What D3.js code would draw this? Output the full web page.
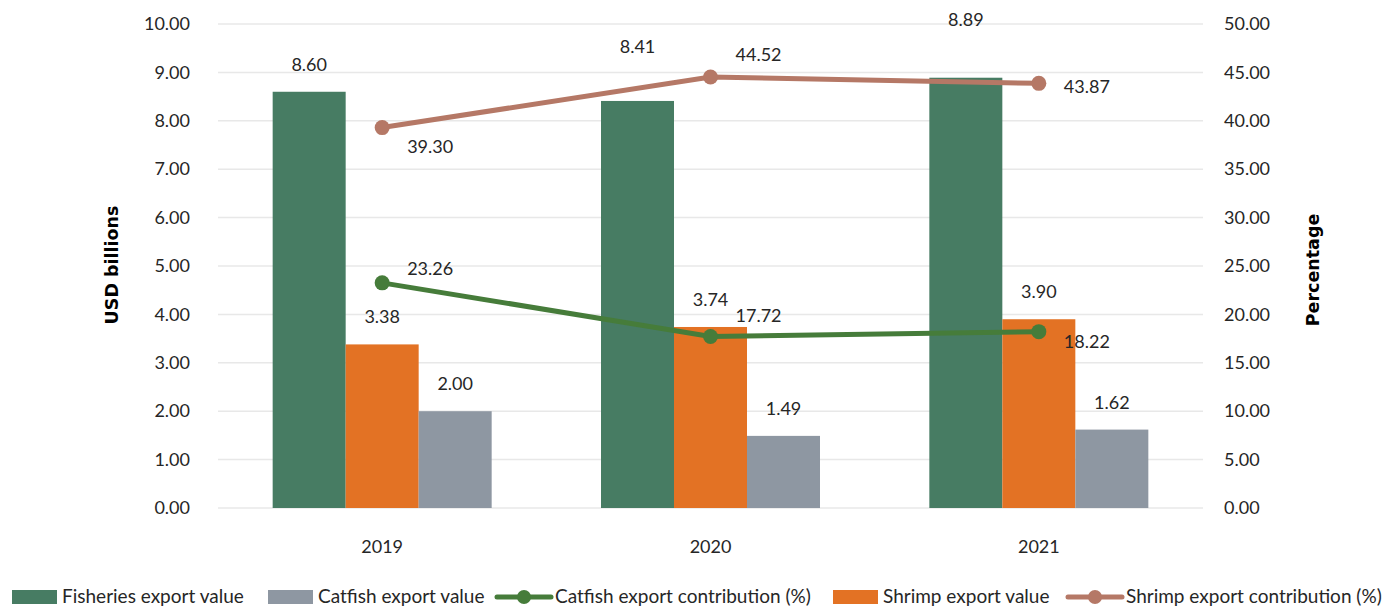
<!DOCTYPE html>
<html>
<head>
<meta charset="utf-8">
<script src="https://cdn.jsdelivr.net/npm/d3@7"></script>
<style>
  body { margin: 0; background: #fff; }
  svg text { font-family: Lato, "Open Sans", sans-serif; fill: #262626; }
</style>
</head>
<body>
<div id="chart"></div>
<script>
// data
const years = ["2019", "2020", "2021"];
const fisheriesValue = [8.60, 8.41, 8.89];
const shrimpValue = [3.38, 3.74, 3.90];
const catfishValue = [2.00, 1.49, 1.62];
const catfishShare = [23.26, 17.72, 18.22];
const shrimpShare = [39.30, 44.52, 43.87];
const leftTicks = [0, 1, 2, 3, 4, 5, 6, 7, 8, 9, 10];
const rightTicks = [0, 5, 10, 15, 20, 25, 30, 35, 40, 45, 50];

// extra lift for a few bar labels (they get pushed up in the original)
const fisheriesLabelLift = [0, 27, 31];

const colors = {
  fisheries: "#477c63",
  shrimp: "#e37224",
  catfish: "#8e97a2",
  catfishLine: "#467c3a",
  shrimpLine: "#b57866"
};

const width = 1391, height = 607;
const margin = { top: 24, right: 188, bottom: 99, left: 218 };

const svg = d3.select("#chart").append("svg")
  .attr("width", width)
  .attr("height", height);

const x = d3.scaleBand()
  .domain(years)
  .range([margin.left, width - margin.right])
  .padding(0);

const yLeft = d3.scaleLinear().domain([0, 10]).range([height - margin.bottom, margin.top]);
const yRight = d3.scaleLinear().domain([0, 50]).range([height - margin.bottom, margin.top]);

// gridlines
svg.append("g")
  .selectAll("line")
  .data(leftTicks)
  .enter().append("line")
  .attr("x1", margin.left)
  .attr("x2", width - margin.right)
  .attr("y1", d => yLeft(d))
  .attr("y2", d => yLeft(d))
  .style("stroke", "#e8e8e8")
  .style("stroke-width", 1.5);

// left axis
const leftAxis = svg.append("g")
  .attr("transform", `translate(${margin.left - 28},0)`)
  .call(d3.axisLeft(yLeft).tickValues(leftTicks).tickFormat(d3.format(".2f")).tickSize(0).tickPadding(0));
leftAxis.select(".domain").remove();
leftAxis.selectAll("text").style("font-size", "18px").attr("fill", "#262626");

// right axis
const rightAxis = svg.append("g")
  .attr("transform", `translate(${width - margin.right + 21},0)`)
  .call(d3.axisRight(yRight).tickValues(rightTicks).tickFormat(d3.format(".2f")).tickSize(0).tickPadding(0));
rightAxis.select(".domain").remove();
rightAxis.selectAll("text").style("font-size", "18px").attr("fill", "#262626");

// bottom axis
const bottomAxis = svg.append("g")
  .attr("transform", `translate(0,${height - margin.bottom})`)
  .call(d3.axisBottom(x).tickSize(0).tickPadding(32));
bottomAxis.select(".domain").remove();
bottomAxis.selectAll("text").style("font-size", "18px").attr("fill", "#262626");

// axis titles
const midY = (margin.top + height - margin.bottom) / 2;
svg.append("text")
  .attr("transform", `translate(118,${midY - 1}) rotate(-90)`)
  .attr("text-anchor", "middle")
  .style("font-family", "'DejaVu Sans', sans-serif")
  .style("font-weight", "bold")
  .style("font-size", "17.5px")
  .style("fill", "#000")
  .text("USD billions");

svg.append("text")
  .attr("transform", `translate(1319,${midY + 4}) rotate(-90)`)
  .attr("text-anchor", "middle")
  .style("font-family", "'DejaVu Sans', sans-serif")
  .style("font-weight", "bold")
  .style("font-size", "17.5px")
  .style("fill", "#000")
  .text("Percentage");

// bars
const barSeries = [
  { key: "fisheries", values: fisheriesValue },
  { key: "shrimp", values: shrimpValue },
  { key: "catfish", values: catfishValue }
];
const groupWidth = x.bandwidth() * 0.667;
const inner = d3.scaleBand()
  .domain(barSeries.map(s => s.key))
  .range([0, groupWidth]);

barSeries.forEach(s => {
  const g = svg.append("g");
  g.selectAll("rect")
    .data(s.values)
    .enter().append("rect")
    .attr("x", (d, i) => x(years[i]) + (x.bandwidth() - groupWidth) / 2 + inner(s.key))
    .attr("y", d => yLeft(d))
    .attr("width", inner.bandwidth())
    .attr("height", d => yLeft(0) - yLeft(d))
    .attr("fill", colors[s.key]);

  g.selectAll("text")
    .data(s.values)
    .enter().append("text")
    .attr("x", (d, i) => x(years[i]) + (x.bandwidth() - groupWidth) / 2 + inner(s.key) + inner.bandwidth() / 2)
    .attr("y", (d, i) => yLeft(d) - 21 - (s.key === "fisheries" ? fisheriesLabelLift[i] : 0))
    .attr("text-anchor", "middle")
    .style("font-size", "18px")
    .text(d => d.toFixed(2));
});

// lines
const lineSeries = [
  { key: "shrimpLine", values: shrimpShare, labelDy: [25, -16, 10] },
  { key: "catfishLine", values: catfishShare, labelDy: [-8, -14, 16] }
];
const cx = i => x(years[i]) + x.bandwidth() / 2;

lineSeries.forEach(s => {
  const line = d3.line()
    .x((d, i) => cx(i))
    .y(d => yRight(d));

  svg.append("path")
    .datum(s.values)
    .attr("d", line)
    .attr("fill", "none")
    .attr("stroke", colors[s.key])
    .attr("stroke-width", 5)
    .attr("stroke-linecap", "round");

  svg.append("g").selectAll("circle")
    .data(s.values)
    .enter().append("circle")
    .attr("cx", (d, i) => cx(i))
    .attr("cy", d => yRight(d))
    .attr("r", 7.5)
    .attr("fill", colors[s.key]);

  svg.append("g").selectAll("text")
    .data(s.values)
    .enter().append("text")
    .attr("x", (d, i) => cx(i) + 25)
    .attr("y", (d, i) => yRight(d) + s.labelDy[i])
    .style("font-size", "18px")
    .text(d => d.toFixed(2));
});

// legend
const legendItems = [
  { label: "Fisheries export value", type: "rect", color: colors.fisheries, x: 12 },
  { label: "Catfish export value", type: "rect", color: colors.catfish, x: 268 },
  { label: "Catfish export contribution (%)", type: "line", color: colors.catfishLine, x: 497 },
  { label: "Shrimp export value", type: "rect", color: colors.shrimp, x: 833 },
  { label: "Shrimp export contribution (%)", type: "line", color: colors.shrimpLine, x: 1068 }
];
const legendY = 596;

const legend = svg.append("g").selectAll("g")
  .data(legendItems)
  .enter().append("g")
  .attr("transform", d => `translate(${d.x},${legendY})`);

legend.filter(d => d.type === "rect").append("rect")
  .attr("x", 0)
  .attr("y", -6)
  .attr("width", 45)
  .attr("height", 14)
  .attr("fill", d => d.color);

legend.filter(d => d.type === "line").append("line")
  .attr("x1", 0).attr("x2", 54)
  .attr("y1", 1).attr("y2", 1)
  .attr("stroke", d => d.color)
  .attr("stroke-width", 5)
  .attr("stroke-linecap", "round");

legend.filter(d => d.type === "line").append("circle")
  .attr("cx", 27).attr("cy", 1).attr("r", 7)
  .attr("fill", d => d.color);

legend.append("text")
  .attr("x", d => d.type === "rect" ? 50 : 58)
  .attr("y", 7)
  .style("font-size", "19px")
  .text(d => d.label);
</script>
</body>
</html>
